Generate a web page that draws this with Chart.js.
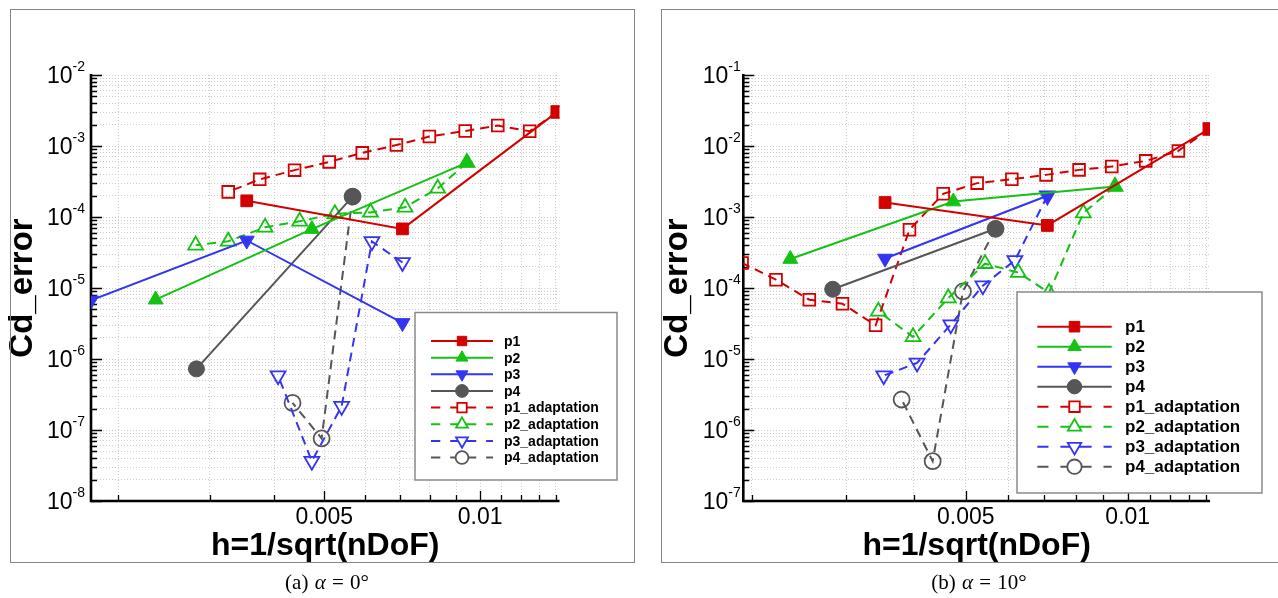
<!DOCTYPE html>
<html>
<head>
<meta charset="utf-8">
<script src="https://cdn.jsdelivr.net/npm/chart.js@4.4.1/dist/chart.umd.min.js"></script>
<style>
  html, body { margin: 0; padding: 0; background: #fff; }
  body { width: 1278px; height: 598px; overflow: hidden; position: relative; }
  canvas { position: absolute; top: 0; }
  #chartA { left: 0; }
  #chartB { left: 640px; }
  .frame { position: absolute; top: 9px; height: 552px; border: 1px solid #858585; pointer-events: none; }
  #frameA { left: 10px; width: 623px; }
  #frameB { left: 661px; width: 640px; }
  .caption { position: absolute; top: 570px; width: 240px; line-height: 24px; text-align: center;
             font: 21px "Liberation Serif", "DejaVu Serif", serif; color: #000; word-spacing: 1px; }
  #capA { left: 207px; }
  #capB { left: 859px; }
</style>
</head>
<body>
<canvas id="chartA" width="640" height="598"></canvas>
<canvas id="chartB" width="638" height="598"></canvas>
<div class="frame" id="frameA"></div>
<div class="frame" id="frameB"></div>
<div class="caption" id="capA">(a) <i>α</i> = 0°</div>
<div class="caption" id="capB">(b) <i>α</i> = 10°</div>

<script>
// x axis ticks (shared)
const hTickValues = [0.005, 0.01];
const hTickLabels = ['0.005', '0.01'];
const hMinorTicks = [0.002, 0.003, 0.004, 0.006, 0.007, 0.008, 0.009, 0.011, 0.012, 0.013, 0.014];

// y axis decades
const aErrDecades = [1e-8, 1e-7, 1e-6, 1e-5, 1e-4, 1e-3, 1e-2];
const aErrExps = ['-8', '-7', '-6', '-5', '-4', '-3', '-2'];
const bErrDecades = [1e-7, 1e-6, 1e-5, 1e-4, 1e-3, 1e-2, 1e-1];
const bErrExps = ['-7', '-6', '-5', '-4', '-3', '-2', '-1'];

const seriesNames = ['p1', 'p2', 'p3', 'p4', 'p1_adaptation', 'p2_adaptation', 'p3_adaptation', 'p4_adaptation'];

// (a) alpha = 0
const a_p1_h = [0.00354, 0.00708, 0.0141];
const a_p1_err = [1.69e-4, 6.8e-5, 3.02e-3];
const a_p2_h = [0.00236, 0.00473, 0.00943];
const a_p2_err = [6.85e-6, 6.76e-5, 5.84e-4];
const a_p3_h = [0.00177, 0.00354, 0.00708];
const a_p3_err = [6.7e-6, 4.67e-5, 3.22e-6];
const a_p4_h = [0.00283, 0.00567];
const a_p4_err = [7.26e-7, 1.94e-4];
const a_p1a_h = [0.0141, 0.01247, 0.01082, 0.00936, 0.00798, 0.00689, 0.00592, 0.00511, 0.00438, 0.00375, 0.00326];
const a_p1a_err = [3.02e-3, 1.61e-3, 1.94e-3, 1.63e-3, 1.36e-3, 1.03e-3, 8.0e-4, 5.97e-4, 4.57e-4, 3.39e-4, 2.26e-4];
const a_p2a_h = [0.00943, 0.00828, 0.00716, 0.00614, 0.00524, 0.00448, 0.00384, 0.00326, 0.00282];
const a_p2a_err = [5.84e-4, 2.53e-4, 1.37e-4, 1.16e-4, 1.11e-4, 8.7e-5, 7.16e-5, 4.55e-5, 4.0e-5];
const a_p3a_h = [0.00708, 0.00618, 0.0054, 0.00473, 0.00407];
const a_p3a_err = [2.29e-5, 4.52e-5, 2.16e-7, 3.64e-8, 5.84e-7];
const a_p4a_h = [0.00567, 0.00494, 0.00434];
const a_p4a_err = [1.94e-4, 7.6e-8, 2.41e-7];

// (b) alpha = 10
const b_p1_h = [0.00354, 0.00709, 0.01418];
const b_p1_err = [1.6e-3, 7.6e-4, 1.74e-2];
const b_p2_h = [0.00236, 0.00474, 0.00947];
const b_p2_err = [2.56e-4, 1.65e-3, 2.69e-3];
const b_p3_h = [0.00354, 0.00709];
const b_p3_err = [2.6e-4, 1.99e-3];
const b_p4_h = [0.00283, 0.00568];
const b_p4_err = [9.6e-5, 6.82e-4];
const b_p1a_h = [0.01418, 0.01242, 0.0108, 0.00934, 0.00812, 0.00705, 0.00609, 0.00525, 0.00454, 0.00393, 0.0034, 0.00295, 0.00256, 0.00222, 0.00192];
const b_p1a_err = [1.74e-2, 8.53e-3, 6.17e-3, 5.13e-3, 4.61e-3, 3.92e-3, 3.41e-3, 3.0e-3, 2.12e-3, 6.61e-4, 2.98e-5, 6.01e-5, 6.84e-5, 1.31e-4, 2.25e-4];
const b_p2a_h = [0.00947, 0.00827, 0.00714, 0.00626, 0.00543, 0.00464, 0.00399, 0.00344];
const b_p2a_err = [2.69e-3, 1.135e-3, 8.6e-5, 1.65e-4, 2.2e-4, 7.23e-5, 2.05e-5, 4.69e-5];
const b_p3a_h = [0.00709, 0.00617, 0.00538, 0.00469, 0.00406, 0.00352];
const b_p3a_err = [1.99e-3, 2.45e-4, 1.08e-4, 3.05e-5, 8.8e-6, 5.84e-6];
const b_p4a_h = [0.00568, 0.00494, 0.00434, 0.0038];
const b_p4a_err = [6.82e-4, 8.95e-5, 3.64e-7, 2.69e-6];

const RED = '#d40000', GREEN = '#14c214', BLUE = '#3434f2', GRAY = '#565656';
const SANS = '"Liberation Sans", Arial, Helvetica, sans-serif';

// marker look per series: colour, style, rotation, filled
const looks = [
  [RED, 'rect', 0, true], [GREEN, 'triangle', 0, true], [BLUE, 'triangle', 180, true], [GRAY, 'circle', 0, true],
  [RED, 'rect', 0, false], [GREEN, 'triangle', 0, false], [BLUE, 'triangle', 180, false], [GRAY, 'circle', 0, false]
];
const radii = { rect: 8.3, triangle: 8.6, circle: 8 };

function buildSets(hs, errs) {
  return hs.map((h, i) => {
    const [color, style, rot, filled] = looks[i];
    return {
      label: seriesNames[i],
      data: h.map((v, j) => ({ x: v, y: errs[i][j] })),
      showLine: true,
      borderColor: color,
      backgroundColor: color,
      borderWidth: 2,
      borderDash: filled ? [] : [9, 6],
      pointStyle: style,
      pointRotation: rot,
      pointRadius: radii[style],
      pointBackgroundColor: filled ? color : 'rgba(0,0,0,0)',
      pointBorderColor: color,
      pointBorderWidth: filled ? 1 : 1.8,
      filled: filled
    };
  });
}

function yTicksFrom(decades) {
  const out = [];
  decades.forEach((d, i) => {
    out.push(d);
    if (i < decades.length - 1) for (let m = 2; m <= 9; m++) out.push(m * d);
  });
  return out;
}

function isDecade(v) {
  const l = Math.log10(v);
  return Math.abs(l - Math.round(l)) < 1e-9;
}

function marker(ctx, style, r, rot, x, y) {
  ctx.beginPath();
  if (style === 'rect') {
    const s = r * Math.SQRT1_2;
    ctx.rect(x - s, y - s, 2 * s, 2 * s);
  } else if (style === 'triangle') {
    const d = rot ? -1 : 1;
    ctx.moveTo(x, y - d * r);
    ctx.lineTo(x + r * 0.866, y + d * r / 2);
    ctx.lineTo(x - r * 0.866, y + d * r / 2);
    ctx.closePath();
  } else {
    ctx.arc(x, y, r, 0, Math.PI * 2);
  }
  ctx.fill();
  ctx.stroke();
}

// axis lines, inward ticks, 10^n labels and the boxed legend
const paperAxes = {
  id: 'paperAxes',
  beforeDatasetsDraw(chart, args, o) {
    const { ctx, chartArea: a } = chart;
    const x = chart.scales.x, y = chart.scales.y;
    ctx.save();
    ctx.strokeStyle = '#000';
    ctx.lineWidth = 1.3;
    ctx.beginPath();
    y.ticks.forEach(t => {
      const py = Math.round(y.getPixelForValue(t.value)) + 0.5;
      ctx.moveTo(a.left, py);
      ctx.lineTo(a.left + (isDecade(t.value) ? 11 : 6), py);
    });
    x.ticks.forEach(t => {
      const px = Math.round(x.getPixelForValue(t.value)) + 0.5;
      ctx.moveTo(px, a.bottom);
      ctx.lineTo(px, a.bottom - (hTickValues.includes(t.value) ? 10 : 6));
    });
    ctx.stroke();
    ctx.lineWidth = 2.6;
    ctx.beginPath();
    ctx.moveTo(a.left, a.top - 1);
    ctx.lineTo(a.left, a.bottom);
    ctx.lineTo(a.right, a.bottom);
    ctx.stroke();

    ctx.fillStyle = '#000';
    ctx.textAlign = 'right';
    ctx.textBaseline = 'alphabetic';
    o.decades.forEach((d, i) => {
      const py = y.getPixelForValue(d);
      const xe = a.left - o.labelGap;
      ctx.font = '14px ' + SANS;
      ctx.fillText(o.exps[i], xe, py - 4);
      const ew = ctx.measureText(o.exps[i]).width;
      ctx.font = '23px ' + SANS;
      ctx.fillText('10', xe - ew, py + 8);
    });
    ctx.restore();
  },
  afterDatasetsDraw(chart, args, o) {
    const { ctx } = chart;
    const L = o.legend;
    ctx.save();
    ctx.fillStyle = '#fff';
    ctx.strokeStyle = '#8a8a8a';
    ctx.lineWidth = 1.5;
    ctx.fillRect(L.x, L.y, L.w, L.h);
    ctx.strokeRect(L.x, L.y, L.w, L.h);
    const len = L.x1 - L.x0;
    chart.data.datasets.forEach((ds, i) => {
      const cy = L.rowTop + i * L.rowGap;
      ctx.strokeStyle = ds.borderColor;
      ctx.lineWidth = 2;
      const parts = ds.filled ? [[0, 1]] : [[0, 0.15], [0.31, 0.73], [0.89, 1]];
      ctx.beginPath();
      parts.forEach(([s, e]) => { ctx.moveTo(L.x0 + s * len, cy); ctx.lineTo(L.x0 + e * len, cy); });
      ctx.stroke();
      ctx.fillStyle = ds.filled ? ds.borderColor : '#fff';
      ctx.lineWidth = ds.pointBorderWidth;
      marker(ctx, ds.pointStyle, ds.pointRadius * L.markerScale, ds.pointRotation, L.x0 + len / 2, cy);
      ctx.fillStyle = '#000';
      ctx.font = L.font;
      ctx.textAlign = 'left';
      ctx.textBaseline = 'middle';
      ctx.fillText(ds.label, L.textX, cy + 1);
    });
    ctx.restore();
  }
};

const xTicks = [...hMinorTicks, ...hTickValues].sort((p, q) => p - q);
const gridColor = '#cccccc';

function makeChart(id, p) {
  const yTicks = yTicksFrom(p.decades);
  return new Chart(document.getElementById(id), {
    type: 'scatter',
    data: { datasets: p.datasets },
    options: {
      responsive: false,
      animation: false,
      events: [],
      devicePixelRatio: 1,
      layout: { padding: { left: 0, top: 75, right: p.padRight, bottom: 33 } },
      plugins: {
        legend: { display: false },
        tooltip: { enabled: false },
        paperAxes: { decades: p.decades, exps: p.exps, labelGap: p.labelGap, legend: p.legend }
      },
      scales: {
        x: {
          type: 'logarithmic',
          min: p.xMin,
          max: p.xMax,
          afterBuildTicks: s => { s.ticks = xTicks.map(v => ({ value: v })); },
          afterFit: s => { s.height = 64; },
          grid: { color: gridColor, lineWidth: 1, drawTicks: false },
          border: { display: false, dash: [1, 2] },
          ticks: {
            autoSkip: false, maxRotation: 0, padding: 3, color: '#000',
            font: { family: SANS, size: 23 },
            callback: v => { const i = hTickValues.indexOf(v); return i >= 0 ? hTickLabels[i] : ''; }
          },
          title: { display: true, text: 'h=1/sqrt(nDoF)', color: '#000', padding: 0,
                   font: { family: SANS, size: 32, weight: 'bold' } }
        },
        y: {
          type: 'logarithmic',
          min: p.decades[0],
          max: p.decades[p.decades.length - 1],
          afterBuildTicks: s => { s.ticks = yTicks.map(v => ({ value: v })); },
          afterFit: s => { s.width = p.yWidth; },
          grid: { color: gridColor, lineWidth: 1, drawTicks: false },
          border: { display: false, dash: [1, 2] },
          ticks: { display: false },
          title: { display: true, text: 'Cd_error', color: '#000', padding: { top: p.yTitlePad, bottom: 0 },
                   font: { family: SANS, size: 33, weight: 'bold' } }
        }
      }
    },
    plugins: [paperAxes]
  });
}

makeChart('chartA', {
  datasets: buildSets(
    [a_p1_h, a_p2_h, a_p3_h, a_p4_h, a_p1a_h, a_p2a_h, a_p3a_h, a_p4a_h],
    [a_p1_err, a_p2_err, a_p3_err, a_p4_err, a_p1a_err, a_p2a_err, a_p3a_err, a_p4a_err]),
  decades: aErrDecades, exps: aErrExps,
  xMin: 0.00177, xMax: 0.01424,
  padRight: 80.5, yWidth: 91, yTitlePad: 2.7, labelGap: 6,
  legend: { x: 415, y: 312.5, w: 202, h: 167.5, rowTop: 341, rowGap: 16.65,
            x0: 431, x1: 493, textX: 504, font: 'bold 14px ' + SANS, markerScale: 0.8 }
});

makeChart('chartB', {
  datasets: buildSets(
    [b_p1_h, b_p2_h, b_p3_h, b_p4_h, b_p1a_h, b_p2a_h, b_p3a_h, b_p4a_h],
    [b_p1_err, b_p2_err, b_p3_err, b_p4_err, b_p1a_err, b_p2a_err, b_p3a_err, b_p4a_err]),
  decades: bErrDecades, exps: bErrExps,
  xMin: 0.00193, xMax: 0.01422,
  padRight: 68, yWidth: 103.3, yTitlePad: 17.9, labelGap: 2.5,
  legend: { x: 377, y: 292, w: 245, h: 201, rowTop: 326.7, rowGap: 20,
            x0: 397.3, x1: 471.7, textX: 485, font: 'bold 17px ' + SANS, markerScale: 0.9 }
});
</script>
</body>
</html>
